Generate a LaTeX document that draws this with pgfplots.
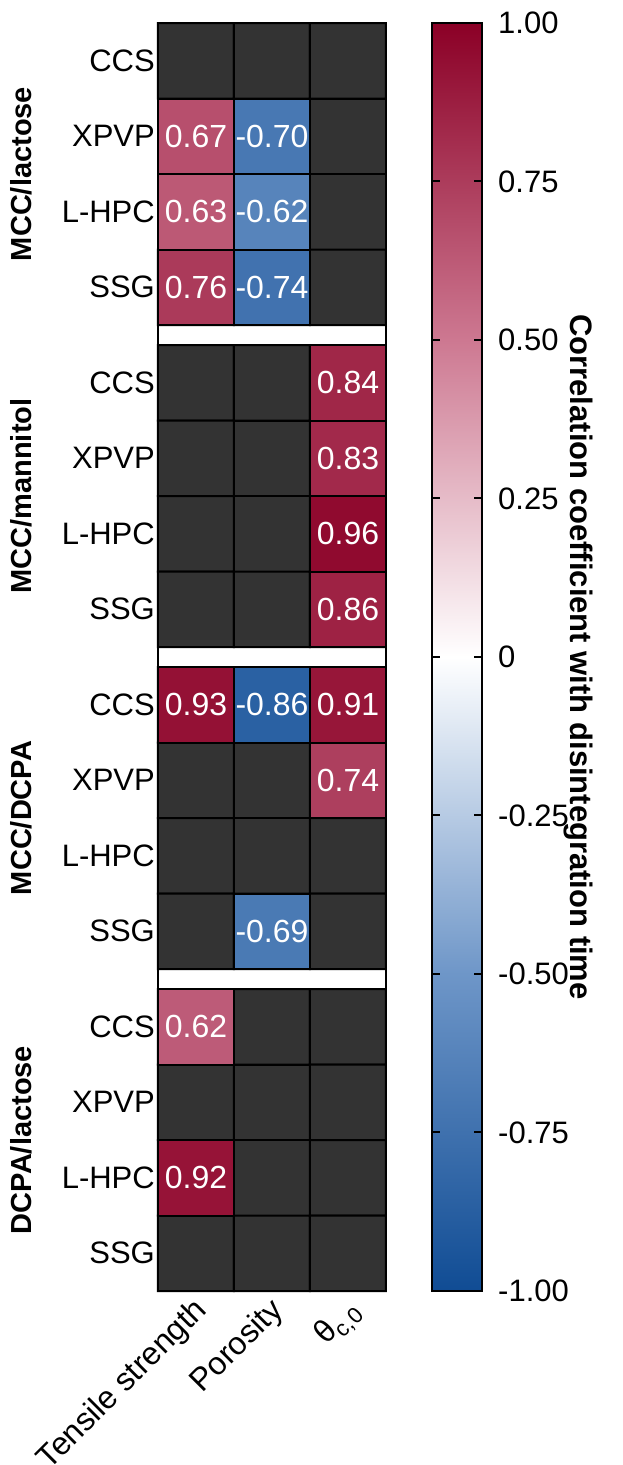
\documentclass[border=0pt]{standalone}
\usepackage{pgfplots}
\pgfplotsset{compat=1.18}
\usepackage{fontspec}
\setmainfont{Liberation Sans}
\newcommand{\fs}{\fontsize{31}{37}\selectfont}
\newcommand{\fv}{\fontsize{32}{38}\selectfont}
\newcommand{\fx}{\fontsize{32}{38}\selectfont}
\newcommand{\fb}{\fontsize{29}{35}\selectfont\bfseries}
\newcommand{\fc}{\fontsize{31}{37}\selectfont\bfseries}
\definecolor{cbA}{RGB}{16,76,148}
\definecolor{cbB}{RGB}{110,150,200}
\definecolor{cbC}{RGB}{255,255,255}
\definecolor{cbD}{RGB}{205,120,145}
\definecolor{cbE}{RGB}{139,0,38}
\pgfplotsset{
  colormap={grayonly}{rgb255=(51,51,51) rgb255=(51,51,51)},
  colormap={rdbu}{rgb255=(16,76,148) rgb255=(110,150,200) rgb255=(255,255,255) rgb255=(205,120,145) rgb255=(139,0,38)},
}
\begin{document}
\begin{tikzpicture}
\useasboundingbox (0,0) rectangle (622pt,1465pt);
\begin{axis}[
  at={(158pt,174pt)}, anchor=south west,
  scale only axis, width=228pt, height=1268pt,
  xmin=0, xmax=3, ymin=0, ymax=16.795, y dir=reverse,
  axis on top, clip=false,
  axis line style={line width=2pt, black},
  major tick length=0pt,
  xtick={0.5,1.5,2.5},
  xticklabels={Tensile strength, Porosity, θ\textsubscript{c,0}},
  xticklabel style={font=\fx, xshift=-4pt, yshift=-2pt, rotate=45, anchor=north east, inner sep=0pt},
  xticklabel shift=2pt,
  ytick={0.5,1.5,2.5,3.5,4.765,5.765,6.765,7.765,9.03,10.03,11.03,12.03,13.295,14.295,15.295,16.295},
  yticklabels={CCS,XPVP,L-HPC,SSG,CCS,XPVP,L-HPC,SSG,CCS,XPVP,L-HPC,SSG,CCS,XPVP,L-HPC,SSG},
  yticklabel style={font=\fs, inner sep=0pt},
  yticklabel shift=3pt,
  colormap name=rdbu, point meta min=-1, point meta max=1,
]
% non-significant cells (dark grey), one matrix per formulation group
\addplot[matrix plot, colormap name=grayonly, mesh/cols=3, point meta=y, shader=faceted, faceted color=black, line width=2pt] table {
x y
0.5 0.5
1.5 0.5
2.5 0.5
0.5 1.5
1.5 1.5
2.5 1.5
0.5 2.5
1.5 2.5
2.5 2.5
0.5 3.5
1.5 3.5
2.5 3.5
};
\addplot[matrix plot, colormap name=grayonly, mesh/cols=3, point meta=y, shader=faceted, faceted color=black, line width=2pt] table {
x y
0.5 4.765
1.5 4.765
2.5 4.765
0.5 5.765
1.5 5.765
2.5 5.765
0.5 6.765
1.5 6.765
2.5 6.765
0.5 7.765
1.5 7.765
2.5 7.765
};
\addplot[matrix plot, colormap name=grayonly, mesh/cols=3, point meta=y, shader=faceted, faceted color=black, line width=2pt] table {
x y
0.5 9.03
1.5 9.03
2.5 9.03
0.5 10.03
1.5 10.03
2.5 10.03
0.5 11.03
1.5 11.03
2.5 11.03
0.5 12.03
1.5 12.03
2.5 12.03
};
\addplot[matrix plot, colormap name=grayonly, mesh/cols=3, point meta=y, shader=faceted, faceted color=black, line width=2pt] table {
x y
0.5 13.295
1.5 13.295
2.5 13.295
0.5 14.295
1.5 14.295
2.5 14.295
0.5 15.295
1.5 15.295
2.5 15.295
0.5 16.295
1.5 16.295
2.5 16.295
};
% significant correlations
\addplot[patch, patch type=rectangle, shader=faceted, faceted color=black, line width=2pt, point meta=explicit] table[meta=c] {
x y c
0 1 0.67
1 1 0.67
1 2 0.67
0 2 0.67
1 1 -0.70
2 1 -0.70
2 2 -0.70
1 2 -0.70
0 2 0.63
1 2 0.63
1 3 0.63
0 3 0.63
1 2 -0.62
2 2 -0.62
2 3 -0.62
1 3 -0.62
0 3 0.76
1 3 0.76
1 4 0.76
0 4 0.76
1 3 -0.74
2 3 -0.74
2 4 -0.74
1 4 -0.74
2 4.265 0.84
3 4.265 0.84
3 5.265 0.84
2 5.265 0.84
2 5.265 0.83
3 5.265 0.83
3 6.265 0.83
2 6.265 0.83
2 6.265 0.96
3 6.265 0.96
3 7.265 0.96
2 7.265 0.96
2 7.265 0.86
3 7.265 0.86
3 8.265 0.86
2 8.265 0.86
0 8.53 0.93
1 8.53 0.93
1 9.53 0.93
0 9.53 0.93
1 8.53 -0.86
2 8.53 -0.86
2 9.53 -0.86
1 9.53 -0.86
2 8.53 0.91
3 8.53 0.91
3 9.53 0.91
2 9.53 0.91
2 9.53 0.74
3 9.53 0.74
3 10.53 0.74
2 10.53 0.74
1 11.53 -0.69
2 11.53 -0.69
2 12.53 -0.69
1 12.53 -0.69
0 12.795 0.62
1 12.795 0.62
1 13.795 0.62
0 13.795 0.62
0 14.795 0.92
1 14.795 0.92
1 15.795 0.92
0 15.795 0.92
};
% value labels
\addplot[only marks, mark=none, point meta=explicit symbolic, nodes near coords,
  nodes near coords style={font=\fv, text=white, anchor=center, inner sep=0pt}] table[meta=lab] {
x y lab
0.5 1.5 0.67
1.5 1.5 -0.70
0.5 2.5 0.63
1.5 2.5 -0.62
0.5 3.5 0.76
1.5 3.5 -0.74
2.5 4.765 0.84
2.5 5.765 0.83
2.5 6.765 0.96
2.5 7.765 0.86
0.5 9.03 0.93
1.5 9.03 -0.86
2.5 9.03 0.91
2.5 10.03 0.74
1.5 12.03 -0.69
0.5 13.295 0.62
0.5 15.295 0.92
};
\node[rotate=90, font=\fb] at ([xshift=-137pt]axis cs:0,2) {MCC/lactose};
\node[rotate=90, font=\fb] at ([xshift=-137pt]axis cs:0,6.265) {MCC/mannitol};
\node[rotate=90, font=\fb] at ([xshift=-137pt]axis cs:0,10.53) {MCC/DCPA};
\node[rotate=90, font=\fb] at ([xshift=-137pt]axis cs:0,14.795) {DCPA/lactose};
\node[rotate=-90, font=\fc] at ([xshift=192pt]axis cs:3,8.3975) {Correlation coefficient with disintegration time};
\end{axis}
% colour scale
\begin{axis}[
  at={(432pt,1442pt)}, anchor=north west,
  scale only axis, width=50pt, height=1268pt,
  xmin=0, xmax=1, ymin=-1, ymax=1,
  axis on top,
  xtick=\empty,
  ytick={-1,-0.75,-0.5,-0.25,0,0.25,0.5,0.75,1},
  yticklabels={-1.00,-0.75,-0.50,-0.25,0,0.25,0.50,0.75,1.00},
  yticklabel style={font=\fs, inner sep=0pt},
  yticklabel shift=16pt,
  yticklabel pos=right,
  major tick length=0pt,
  ymajorgrids,
  major grid style={black, line width=2pt, dash pattern=on 8pt off 34pt on 8pt},
  axis line style={line width=2pt, black},
]
\addplot[draw=none, top color=cbC, bottom color=cbA, middle color=cbB] coordinates {(0,-1) (1,-1) (1,0) (0,0)} -- cycle;
\addplot[draw=none, top color=cbE, bottom color=cbC, middle color=cbD] coordinates {(0,0) (1,0) (1,1) (0,1)} -- cycle;
\end{axis}
\end{tikzpicture}
\end{document}
